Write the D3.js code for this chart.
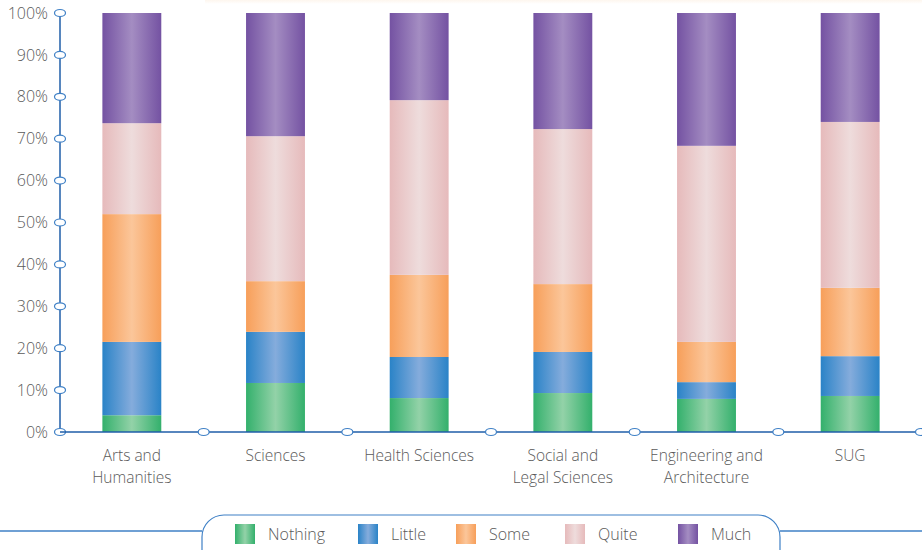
<!DOCTYPE html>
<html>
<head>
<meta charset="utf-8">
<script src="https://cdn.jsdelivr.net/npm/d3@7/dist/d3.min.js"></script>
<style>
  html, body { margin: 0; padding: 0; background: #fff; }
  svg { display: block; font-family: "Open Sans", "DejaVu Sans", sans-serif; font-weight: 300; }
</style>
</head>
<body>
<svg id="chart" width="922" height="550"></svg>
<script>
// Faculties (category labels, "\n" splits a label over two lines)
const categories = ["Arts and\nHumanities", "Sciences", "Health Sciences",
                    "Social and\nLegal Sciences", "Engineering and\nArchitecture", "SUG"];
// Response levels, bottom to top
const seriesNames = ["Nothing", "Little", "Some", "Quite", "Much"];
// Share of answers per faculty (%)
const nothing = [4.0, 11.7, 8.1, 9.3, 7.9, 8.6];
const little  = [17.5, 12.2, 9.8, 9.8, 4.0, 9.5];
const some    = [30.5, 12.1, 19.6, 16.2, 9.6, 16.3];
const quite   = [21.7, 34.6, 41.7, 37.0, 46.8, 39.6];
const much    = [26.3, 29.4, 20.8, 27.7, 31.7, 26.0];
const yTicks  = [0, 10, 20, 30, 40, 50, 60, 70, 80, 90, 100];

// Edge / centre colours of each series' cylindrical gradient
const palette = {
  Nothing: ["#33b06c", "#93d2a8"],
  Little:  ["#2a83c7", "#85acdc"],
  Some:    ["#f79f5a", "#fbc69a"],
  Quite:   ["#e6babb", "#eedcdc"],
  Much:    ["#7452a2", "#a48dc2"]
};

const seriesValues = [nothing, little, some, quite, much];
const rows = categories.map((c, i) => {
  const r = { cat: c };
  seriesNames.forEach((s, k) => r[s] = seriesValues[k][i]);
  return r;
});

const svg = d3.select("#chart");
const axisBlue = "#1f5ea8";
const tickBlue = "#3f80c6";
const textGrey = "#5a5a5a";

const x = d3.scaleBand().domain(categories).range([60, 922]).padding(0);
const y = d3.scaleLinear().domain([0, 100]).range([432, 13]);
const barW = x.bandwidth() * 0.41;

// gradients
const defs = svg.append("defs");
seriesNames.forEach(s => {
  const g = defs.append("linearGradient").attr("id", "g-" + s)
    .attr("x1", "0%").attr("x2", "100%").attr("y1", "0%").attr("y2", "0%");
  g.append("stop").attr("offset", "0%").attr("stop-color", palette[s][0]);
  g.append("stop").attr("offset", "50%").attr("stop-color", palette[s][1]);
  g.append("stop").attr("offset", "100%").attr("stop-color", palette[s][0]);
});
const topGrad = defs.append("linearGradient").attr("id", "topstrip")
  .attr("x1", "0").attr("x2", "0").attr("y1", "0").attr("y2", "1");
topGrad.append("stop").attr("offset", "0%").attr("stop-color", "#fdf6ee");
topGrad.append("stop").attr("offset", "100%").attr("stop-color", "#ffffff");

// faint strip along the top edge
svg.append("rect").attr("x", 205).attr("y", 0).attr("width", 717).attr("height", 4)
  .attr("fill", "url(#topstrip)");

// stacked bars
const stacked = d3.stack().keys(seriesNames)(rows);
svg.append("g").selectAll("g").data(stacked).join("g")
  .attr("fill", d => "url(#g-" + d.key + ")")
  .selectAll("rect").data(d => d).join("rect")
  .attr("x", d => x(d.data.cat) + (x.bandwidth() - barW) / 2)
  .attr("y", d => y(d[1]))
  .attr("width", barW)
  .attr("height", d => y(d[0]) - y(d[1]));

// y axis
const yAxis = svg.append("g");
yAxis.append("line").attr("x1", 60).attr("x2", 60).attr("y1", y(100)).attr("y2", y(0))
  .attr("stroke", axisBlue).attr("stroke-width", 1.5);
yAxis.selectAll("text").data(yTicks).join("text")
  .attr("x", 48).attr("y", d => y(d)).attr("dy", "0.35em")
  .attr("text-anchor", "end").attr("fill", textGrey).attr("font-size", 16)
  .text(d => d + "%");

// x axis line
svg.append("line").attr("x1", 60).attr("x2", 922).attr("y1", y(0)).attr("y2", y(0))
  .attr("stroke", axisBlue).attr("stroke-width", 1.5);

// tick markers
yAxis.selectAll("ellipse").data(yTicks).join("ellipse")
  .attr("cx", 60).attr("cy", d => y(d)).attr("rx", 5.5).attr("ry", 3.5)
  .attr("fill", "#fff").attr("stroke", tickBlue).attr("stroke-width", 1.2);
const bounds = categories.slice(1).map(c => x(c)).concat([x.range()[1] - 1]);
svg.append("g").selectAll("ellipse").data(bounds).join("ellipse")
  .attr("cx", d => d).attr("cy", y(0)).attr("rx", 5.5).attr("ry", 3.5)
  .attr("fill", "#fff").attr("stroke", tickBlue).attr("stroke-width", 1.2);

// category labels
const catLabels = svg.append("g").selectAll("text").data(categories).join("text")
  .attr("x", d => x(d) + x.bandwidth() / 2).attr("y", 461)
  .attr("text-anchor", "middle").attr("fill", textGrey).attr("font-size", 15.5);
catLabels.selectAll("tspan").data(d => d.split("\n")).join("tspan")
  .attr("x", function () { return d3.select(this.parentNode).attr("x"); })
  .attr("dy", (d, i) => i === 0 ? 0 : 22)
  .text(d => d);

// legend frame
const legY = 531;
svg.append("line").attr("x1", 0).attr("x2", 202).attr("y1", legY).attr("y2", legY)
  .attr("stroke", tickBlue).attr("stroke-width", 1.5);
svg.append("line").attr("x1", 780).attr("x2", 922).attr("y1", legY).attr("y2", legY)
  .attr("stroke", tickBlue).attr("stroke-width", 1.5);
svg.append("rect").attr("x", 202).attr("y", 515).attr("width", 578).attr("height", 70)
  .attr("rx", 22).attr("ry", 22)
  .attr("fill", "#fff").attr("stroke", tickBlue).attr("stroke-width", 1.2);

// legend entries
const legX = [235, 358, 456, 565, 678];
const leg = svg.append("g").selectAll("g").data(seriesNames).join("g")
  .attr("transform", (d, i) => `translate(${legX[i]},524)`);
leg.append("rect").attr("width", 20).attr("height", 20)
  .attr("fill", d => "url(#g-" + d + ")");
leg.append("text").attr("x", 33).attr("y", 10).attr("dy", "0.35em")
  .attr("fill", textGrey).attr("font-size", 16).text(d => d);
</script>
</body>
</html>
